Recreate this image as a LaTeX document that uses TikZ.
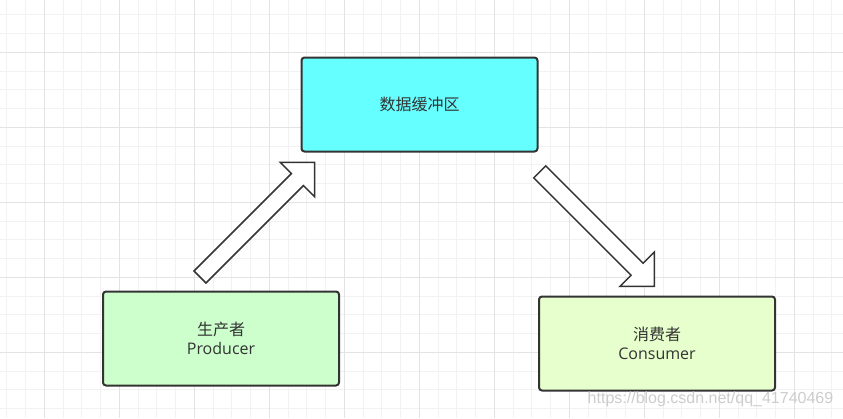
\documentclass[tikz,border=0pt]{standalone}
\usepackage{fontspec}
\setmainfont{Open Sans}
\newfontfamily\cjk{Noto Sans CJK SC}
\newfontfamily\wmfont{Liberation Sans}
\usetikzlibrary{shapes,shapes.arrows}
\definecolor{gridminor}{HTML}{F2F2F2}
\definecolor{gridmajor}{HTML}{E3E3E3}
\definecolor{edgegray}{HTML}{333333}
\definecolor{bufcyan}{HTML}{66FFFF}
\definecolor{prodgreen}{HTML}{CCFFCC}
\definecolor{conslime}{HTML}{E6FFCC}
\definecolor{wmgray}{HTML}{CDCDCD}
\tikzstyle{box}=[rectangle,rounded corners=3pt,draw=edgegray,line width=2pt,minimum width=236pt,minimum height=94pt,align=center,text=edgegray,font=\fontsize{16}{19.5}\selectfont]
\tikzstyle{blockarrow}=[single arrow,draw=edgegray,fill=white,line width=1.5pt,minimum height=162pt,inner xsep=0pt,inner ysep=7.75pt,single arrow head extend=15.75pt,single arrow tip angle=90,anchor=tail]
\tikzstyle{gridline}=[line width=1pt]

\begin{document}
\begin{tikzpicture}[x=1pt,y=-1pt]

\useasboundingbox (0,0) rectangle (843,418);
\fill[white] (0,0) rectangle (843,418);

    % background grid
    \foreach \k in {0,...,44}
        \draw[gridline,gridminor] ({6.8+18.75*\k},0) -- ({6.8+18.75*\k},418);
    \foreach \k in {0,...,21}
        \draw[gridline,gridminor] (0,{14.8+18.75*\k}) -- (843,{14.8+18.75*\k});
    \foreach \k in {0,...,10}
        \draw[gridline,gridmajor] ({44.3+75*\k},0) -- ({44.3+75*\k},418);
    \foreach \k in {0,...,4}
        \draw[gridline,gridmajor] (0,{52.3+75*\k}) -- (843,{52.3+75*\k});

    \node[box,fill=bufcyan] (buffer) at (419.5,104.5) {\cjk 数据缓冲区};
    \node[box,fill=prodgreen] (producer) at (221,338.5) {{\cjk 生产者}\\Producer};
    \node[box,fill=conslime] (consumer) at (657,343.5) {{\cjk 消费者}\\Consumer};

    \node[blockarrow,rotate=45] (putarrow) at (199.5,277.5) {};
    \node[blockarrow,rotate=-45] (takearrow) at (539.2,171.3) {};

    \node[text=wmgray,font=\wmfont\fontsize{16}{16}\selectfont] (watermark) at (710.5,399.5) {https://blog.csdn.net/qq\_41740469};

\end{tikzpicture}
\end{document}
